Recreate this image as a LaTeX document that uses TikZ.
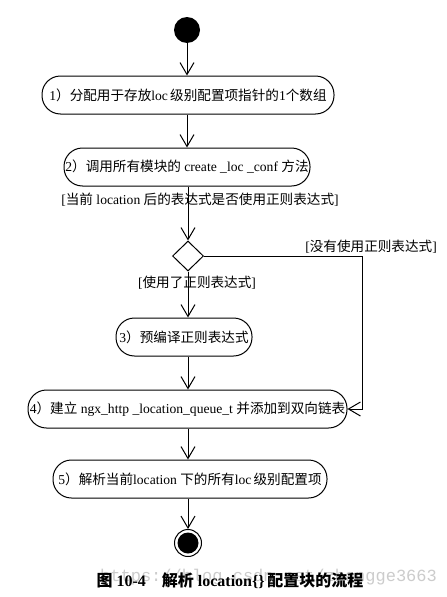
\documentclass[tikz,border=0pt]{standalone}
\usepackage{fontspec}
\setmainfont{Liberation Serif}
\newfontfamily\cjk{Noto Sans CJK SC}
\newfontfamily\wmfont{Liberation Mono}
\usetikzlibrary{arrows.meta,shapes.geometric}
\newcommand{\zh}[1]{{\cjk #1}}
\begin{document}
\begin{tikzpicture}[x=1pt,y=-1pt,
  act/.style={draw, line width=1pt, rounded corners=18.5pt, minimum height=38pt, inner sep=0pt, font=\fontsize{13.6}{15}\selectfont},
  flow/.style={line width=1pt, -{Straight Barb[length=12pt,width=14pt,line width=1pt]}},
  guard/.style={font=\fontsize{13.6}{15}\selectfont, inner sep=0pt},
  dec/.style={draw, diamond, line width=1pt, minimum width=31pt, minimum height=30pt, inner sep=0pt, aspect=1}]
\useasboundingbox (0,0) rectangle (447,597);
\fill[white] (0,0) rectangle (447,597);
% watermark
\node[font=\wmfont\fontsize{17}{19}\selectfont, text=black!20, anchor=west, inner sep=0pt] (wm) at (100,577) {https://blog.csdn.net/zhangge3663};
% start
\node[circle, fill=black, minimum size=26pt, inner sep=0pt] (start) at (187,30) {};
\node[act, minimum width=292pt] (b1) at (188,95) {1\zh{）分配用于存放}loc\,\zh{级别配置项指针的}1\zh{个数组}};
\node[act, minimum width=246pt] (b2) at (187,167) {2\zh{）调用所有模块的} create \_loc \_conf \zh{方法}};
\node[guard] (g1) at (200,200) {[\zh{当前} location \zh{后的表达式是否使用正则表达式}]};
\node[dec] (d) at (188,256) {};
\node[guard, anchor=east] (g2) at (437,247) {[\zh{没有使用正则表达式}]};
\node[guard] (g3) at (197,283) {[\zh{使用了正则表达式}]};
\node[act, minimum width=136pt] (b3) at (184,337) {3\zh{）预编译正则表达式}};
\node[act, minimum width=319pt] (b4) at (187.5,409) {4\zh{）建立} ngx\_http \_location\_queue\_t \zh{并添加到双向链表}};
\node[act, minimum width=274pt] (b5) at (190,479) {5\zh{）解析当前}location \zh{下的所有}loc\,\zh{级别配置项}};
% end
\node[circle, draw, line width=1pt, minimum size=27pt, inner sep=0pt] (end) at (188,543) {};
\fill (end.center) circle (10.5pt);
\coordinate (c1) at (362,256);
\coordinate (c2) at (362,409);
% caption
\node[font=\fontsize{16}{18}\selectfont\bfseries, inner sep=0pt] (cap) at (230,581) {\zh{图} 10-4\quad\zh{解析} location\{\}\,\zh{配置块的流程}};
% connectors
\draw[flow] (start) -- (b1.north -| start);
\draw[flow] (b1.south -| start) -- (b2.north -| start);
\draw[flow] (b2.south -| d) -- (d.north);
\draw[flow] (d.south) -- (b3.north -| d);
\draw[flow] (b3.south -| d) -- (b4.north -| d);
\draw[flow] (b4.south -| d) -- (b5.north -| d);
\draw[flow] (b5.south -| d) -- (end.north);
\draw[flow] (d.east) -- (c1) -- (c2) -- (b4.east);
\end{tikzpicture}
\end{document}
